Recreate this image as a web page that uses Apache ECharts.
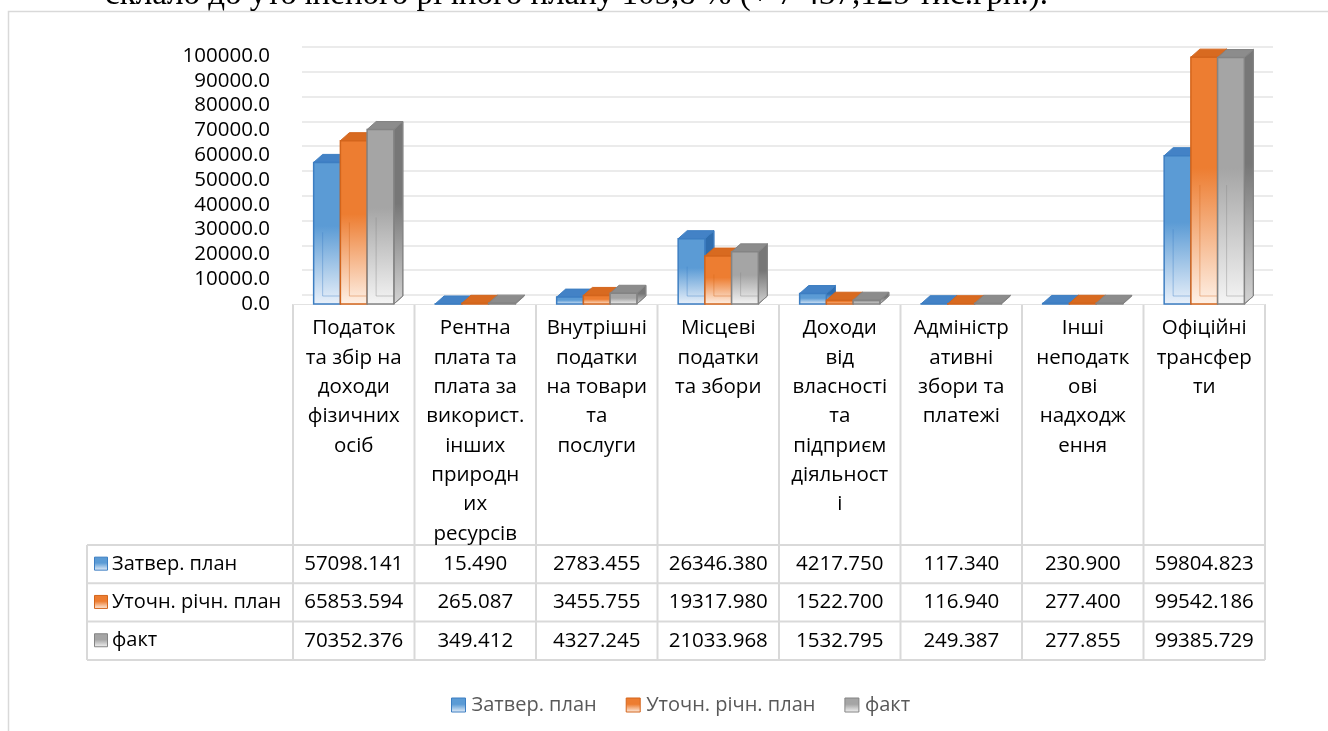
<!DOCTYPE html>
<html><head><meta charset="utf-8">
<script src="https://cdn.jsdelivr.net/npm/echarts@6/dist/echarts.min.js"></script>
<style>html,body{margin:0;padding:0;background:#fff}#c{width:1328px;height:731px}</style>
</head><body><div id="c"></div>
<script>
const categories = ["Податок\nта збір на\nдоходи\nфізичних\nосіб", "Рентна\nплата та\nплата за\nвикорист.\nінших\nприродн\nих\nресурсів", "Внутрішні\nподатки\nна товари\nта\nпослуги", "Місцеві\nподатки\nта збори", "Доходи\nвід\nвласності\nта\nпідприєм\nдіяльност\nі", "Адміністр\nативні\nзбори та\nплатежі", "Інші\nнеподатк\nові\nнадходж\nення", "Офіційні\nтрансфер\nти"];
const seriesNames = ["Затвер. план", "Уточн. річн. план", "факт"];
const planApproved = [57098.141, 15.490, 2783.455, 26346.380, 4217.750, 117.340, 230.900, 59804.823];
const planRefined = [65853.594, 265.087, 3455.755, 19317.980, 1522.700, 116.940, 277.400, 99542.186];
const actual = [70352.376, 349.412, 4327.245, 21033.968, 1532.795, 249.387, 277.855, 99385.729];
const yMin = 0, yMax = 100000, yStep = 10000;
const headline = "склало до уточненого річного плану 105,8 % (+ 7 437,125 тис.грн.).";

const seriesValues = [planApproved, planRefined, actual];
const FONT = "'Open Sans', 'Noto Sans', sans-serif";
const pal = [
  {base:'#5B9BD5', light:'#EAF1FA', edge:'#3D7EC2', top:'#4382C6', side:'#2F6DAE', sideLight:'#C6D9EE'},
  {base:'#ED7D31', light:'#FEF1E7', edge:'#D3651C', top:'#D86A20', side:'#B9591A', sideLight:'#F3CDB3'},
  {base:'#A5A5A5', light:'#F5F5F5', edge:'#848484', top:'#8C8C8C', side:'#777777', sideLight:'#D3D3D3'}
];
const DX = 9, DY = 8;
function grad(a, b){
  return new echarts.graphic.LinearGradient(0,0,0,1,[{offset:0,color:a},{offset:0.45,color:a},{offset:1,color:b}]);
}
function makeRender(si){
  return function(params, api){
    const idx = api.value(0), v = api.value(1);
    const pt = api.coord([idx, v]), p0 = api.coord([idx, 0]);
    const band = api.size([1,0])[0];
    const w = band*0.22;
    const L = pt[0] - 1.5*w + si*w, R = L + w;
    const T = pt[1], B = p0[1];
    const c = pal[si];
    const h = B - T;
    const ch = [];
    ch.push({type:'polygon', shape:{points:[[R,T],[R+DX,T-DY],[R+DX,B-DY],[R,B]]}, style:{fill: h>2?grad(c.side,c.sideLight):c.side, stroke:c.edge, lineWidth:1}});
    ch.push({type:'polygon', shape:{points:[[L,T],[L+DX,T-DY],[R+DX,T-DY],[R,T]]}, style:{fill:c.top, stroke:c.edge, lineWidth:1}});
    ch.push({type:'rect', shape:{x:L, y:T, width:w, height:h}, style:{fill: h>2?grad(c.base,c.light):c.base, stroke:c.edge, lineWidth:1.5}});
    if (h > 12) {
      const ys = Math.max(T + 2, B - DY - h*0.45);
      ch.push({type:'polyline', shape:{points:[[L+DX, ys],[L+DX,B-DY],[R, B-DY]]}, style:{stroke:c.edge, opacity:0.4, lineWidth:1, fill:null}});
    }
    return {type:'group', children: ch};
  };
}

const chart = echarts.init(document.getElementById('c'), null, {renderer:'canvas'});
const legendData = seriesNames.map((n,i)=>({name:n, itemStyle:{color: grad(pal[i].base, pal[i].light), borderColor: pal[i].edge, borderWidth:1}}));

chart.setOption({
  animation:false,
  backgroundColor:'#fff',
  textStyle:{fontFamily:FONT},
  grid:[
    {left:293, right:63, top:56, bottom:427},
    {left:302, right:55, top:47, bottom:436}
  ],
  xAxis:[
    {type:'category', gridIndex:0, data:categories, boundaryGap:true,
     axisLine:{show:true, lineStyle:{color:'#e2e2e2', width:1}}, axisTick:{show:false},
     axisLabel:{interval:0, margin:10, fontSize:20.5, lineHeight:29.3, color:'#000', fontFamily:FONT, verticalAlign:'top'},
     splitLine:{show:false}},
    {type:'category', gridIndex:1, data:categories, show:false}
  ],
  yAxis:[
    {type:'value', gridIndex:0, min:yMin, max:yMax, interval:yStep,
     axisLabel:{formatter:v=>v.toFixed(1), fontSize:20.5, color:'#000', margin:23, fontFamily:FONT},
     axisLine:{show:false}, axisTick:{show:false}, splitLine:{show:false}},
    {type:'value', gridIndex:1, min:yMin, max:yMax, interval:yStep,
     axisLabel:{show:false}, axisLine:{show:false}, axisTick:{show:false},
     splitLine:{show:true, lineStyle:{color:'#e4e4e4', width:1.5}}}
  ],
  legend:{
    data: legendData, left:446, top:690, itemWidth:14, itemHeight:14, itemGap:29,
    icon:'rect', textStyle:{fontSize:20, color:'#595959', fontFamily:FONT, padding:[0,0,0,1]}, selectedMode:false
  },
  series: seriesValues.map((vals, si)=>({
    type:'custom', name: seriesNames[si], xAxisIndex:0, yAxisIndex:0,
    renderItem: makeRender(si),
    itemStyle:{color: pal[si].base},
    encode:{x:0, y:1},
    data: vals.map((v,i)=>[i, v]),
    z: 2
  }))
});

function buildGraphics(){
  const cx = categories.map((_,i)=>chart.convertToPixel({xAxisIndex:0}, i));
  const band = cx[1]-cx[0];
  const bounds = [cx[0]-band/2].concat(cx.map(x=>x+band/2));
  const zeroY = chart.convertToPixel({yAxisIndex:0}, 0);
  const rowTop = 545, rowH = 38.3, tableLeft = 87;
  const rowsY = [rowTop, rowTop+rowH, rowTop+2*rowH, rowTop+3*rowH];
  const lc = '#d9d9d9';
  const g = [];
  g.push({type:'rect', shape:{x:8.5, y:11.5, width:1400, height:800}, style:{fill:null, stroke:'#d9d9d9', lineWidth:1.5}, silent:true, z:0});
  g.push({type:'text', x:105, y:-5, style:{text:headline, font:"33px 'Liberation Serif', 'DejaVu Serif', serif", fill:'#000', verticalAlign:'middle'}, z:10});
  bounds.forEach(x=>{
    g.push({type:'line', shape:{x1:x, y1:zeroY, x2:x, y2:rowsY[3]}, style:{stroke:lc, lineWidth:2}, silent:true});
  });
  g.push({type:'line', shape:{x1:tableLeft, y1:rowsY[0], x2:tableLeft, y2:rowsY[3]}, style:{stroke:lc, lineWidth:2}, silent:true});
  rowsY.forEach(y=>{
    g.push({type:'line', shape:{x1:tableLeft, y1:y, x2:bounds[bounds.length-1], y2:y}, style:{stroke:lc, lineWidth:2}, silent:true});
  });
  seriesValues.forEach((vals, si)=>{
    const yc = rowsY[si] + rowH/2;
    g.push({type:'rect', shape:{x:94.5, y:yc-7, width:13, height:13}, style:{fill:grad(pal[si].base, pal[si].light), stroke:pal[si].edge, lineWidth:1}});
    g.push({type:'text', x:112, y:yc, style:{text:seriesNames[si], font:"20px "+FONT, fill:'#000', verticalAlign:'middle', align:'left'}});
    vals.forEach((v,i)=>{
      g.push({type:'text', x:cx[i], y:yc, style:{text:v.toFixed(3), font:"20.5px "+FONT, fill:'#000', verticalAlign:'middle', align:'center'}});
    });
  });
  chart.setOption({graphic: g});
}
buildGraphics();
</script>
</body></html>
